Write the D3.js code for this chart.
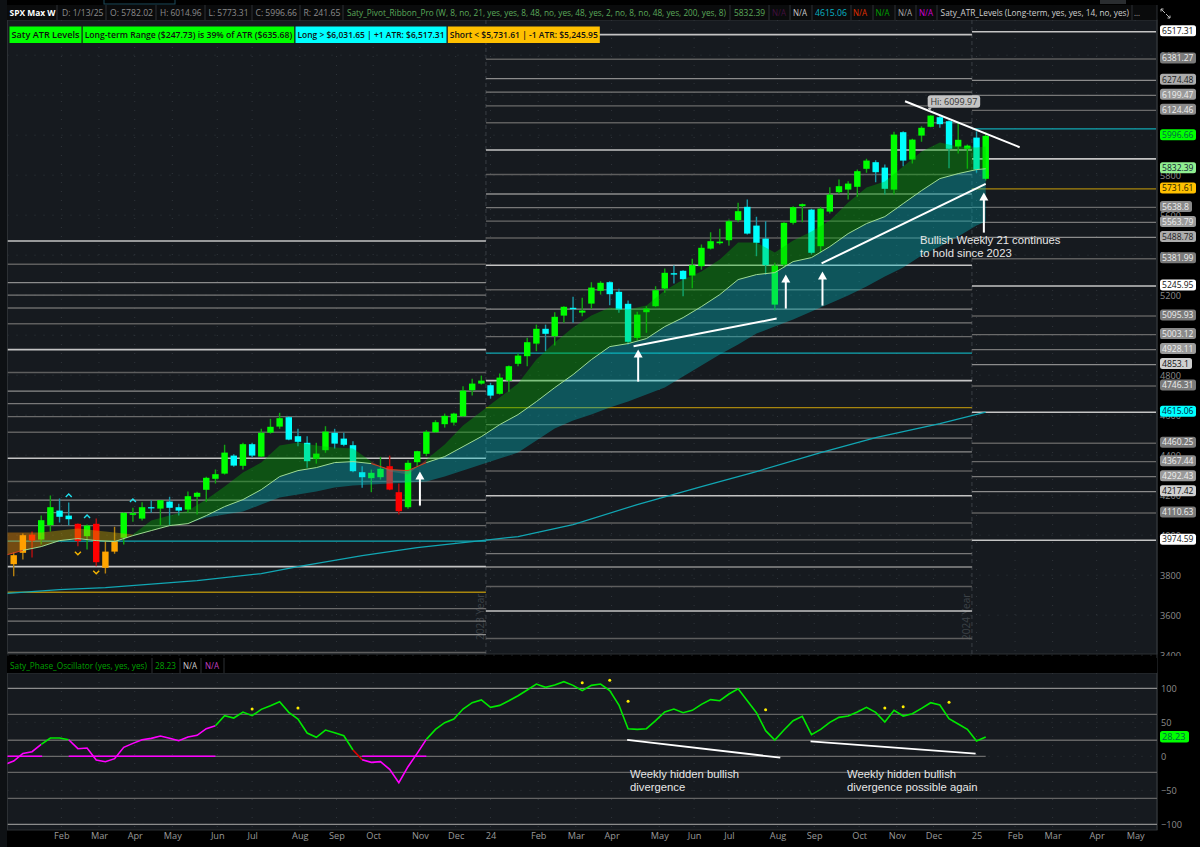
<!DOCTYPE html>
<html>
<head>
<meta charset="utf-8">
<script src="https://cdn.jsdelivr.net/npm/d3@7"></script>
<style>
  html, body { margin: 0; padding: 0; background: #000; }
  svg { display: block; }
  text { font-family: "Open Sans", Roboto, sans-serif; }
  .note { font-family: "Liberation Sans", Arial, sans-serif; font-size: 11.3px; fill: #e6e6e6; }
</style>
</head>
<body>
<script>
// weekly candles, index 0 = first week shown
const opens = [3855,3912,4003,3978,4050,4123,4098,4057,3995,4057,3837,3918,3987,4102,4083,4140,4133,4168,4140,4128,4192,4227,4282,4308,4398,4347,4455,4393,4513,4543,4590,4495,4462,4382,4425,4512,4483,4450,4315,4285,4290,4345,4215,4140,4365,4407,4515,4555,4563,4595,4725,4758,4750,4707,4773,4857,4895,4958,5032,4995,5098,5137,5113,5158,5222,5265,5217,5157,4987,5115,5145,5233,5310,5322,5298,5345,5433,5460,5475,5575,5642,5548,5483,5153,5353,5562,5645,5628,5445,5618,5715,5728,5742,5832,5865,5838,5728,6015,5878,5998,6042,6090,6070,5943,5932,5988,5782.02];
const highs = [3914,4008,4018,4098,4198,4183,4163,4058,4053,4083,3970,4042,4113,4137,4165,4175,4176,4192,4157,4218,4217,4292,4328,4452,4405,4462,4462,4532,4582,4612,4595,4532,4495,4462,4545,4532,4512,4470,4345,4328,4392,4398,4258,4375,4422,4525,4575,4608,4612,4745,4782,4798,4762,4808,4848,4908,4987,5053,5053,5115,5145,5192,5187,5265,5270,5270,5232,5173,5117,5145,5245,5333,5348,5325,5382,5453,5515,5532,5578,5662,5678,5592,5570,5362,5565,5645,5658,5632,5642,5740,5778,5770,5828,5882,5875,5853,6017,6020,5982,6045,6100,6098,6075,6062,5953,6020,6014.96];
const lows = [3795,3878,3888,3954,4018,4063,4050,3945,3928,3845,3808,3907,3953,4067,4073,4112,4050,4048,4098,4112,4103,4167,4258,4303,4342,4328,4388,4392,4508,4532,4475,4445,4337,4358,4412,4433,4445,4315,4237,4215,4278,4225,4103,4132,4345,4395,4512,4538,4548,4592,4698,4753,4683,4703,4717,4845,4845,4920,4920,4948,5062,5062,5095,5132,5203,5150,5112,4953,4975,5012,5142,5212,5258,5195,5235,5328,5428,5453,5448,5565,5503,5395,5303,5125,5337,5553,5565,5403,5412,5608,5705,5678,5692,5812,5765,5703,5703,5845,5858,5967,6040,6037,5835,5908,5832,5812,5773.31];
const closes = [3900,4000,3973,4075,4140,4092,4080,3970,4048,3865,3918,3970,4112,4110,4140,4135,4175,4137,4123,4195,4212,4287,4305,4413,4348,4455,4398,4512,4542,4585,4478,4467,4370,4408,4518,4458,4452,4320,4290,4312,4332,4228,4120,4362,4420,4517,4565,4597,4608,4723,4758,4773,4698,4788,4845,4898,4965,5032,5007,5092,5142,5130,5123,5238,5262,5205,5128,4967,5103,5133,5225,5312,5303,5280,5350,5437,5470,5468,5570,5620,5508,5462,5350,5348,5562,5640,5655,5412,5633,5703,5745,5758,5820,5873,5815,5732,6003,5873,5978,6037,6098,6055,5932,5977,5948,5828,5996.66];
// candle state per run of weeks: g bull, c down, r bear, o recovery
const stateRuns = [[0,1,"o"],[2,2,"r"],[3,4,"g"],[5,6,"c"],[7,7,"r"],[8,8,"g"],[9,9,"r"],[10,11,"o"],[12,14,"g"],[15,15,"c"],[16,16,"g"],[17,18,"c"],[19,23,"g"],[24,24,"c"],[25,25,"g"],[26,26,"c"],[27,29,"g"],[30,32,"c"],[33,34,"g"],[35,38,"c"],[39,40,"g"],[41,42,"r"],[43,51,"g"],[52,52,"c"],[53,57,"g"],[58,58,"c"],[59,60,"g"],[61,61,"c"],[62,64,"g"],[65,67,"c"],[68,71,"g"],[72,73,"c"],[74,79,"g"],[80,82,"c"],[83,86,"g"],[87,87,"c"],[88,93,"g"],[94,95,"c"],[96,96,"g"],[97,97,"c"],[98,100,"g"],[101,102,"c"],[103,104,"g"],[105,105,"c"],[106,106,"g"]];

// pivot ribbon, sampled every second week
const ribbonIdx = [-1,1,3,5,7,9,11,13,15,17,19,21,23,25,27,29,31,33,35,37,39,41,43,45,47,49,51,53,55,57,59,61,63,65,67,69,71,73,75,77,79,81,83,85,87,89,91,93,95,97,99,101,103,105,106];
const emaFast = [4013,4013,4013,4023,4033,4023,4013,4003,4073,4098,4123,4178,4243,4313,4363,4448,4463,4448,4438,4433,4368,4318,4303,4378,4453,4548,4618,4688,4758,4878,4963,5038,5098,5138,5128,5148,5223,5278,5318,5378,5463,5463,5413,5473,5518,5573,5663,5738,5768,5843,5918,5963,5943,5938,5943];
const emaMid = [3899,3924,3943,3973,3983,3973,3968,3998,4023,4048,4058,4098,4143,4178,4228,4293,4323,4338,4363,4368,4358,4328,4323,4363,4393,4443,4493,4553,4603,4668,4738,4803,4878,4943,4958,4983,5043,5088,5143,5203,5278,5303,5313,5368,5388,5443,5508,5558,5593,5658,5723,5783,5808,5828,5832.39];
const emaSlow = [3899,3924,3943,3973,3983,3973,3968,3998,4023,4048,4058,4088,4103,4118,4153,4188,4203,4218,4238,4248,4253,4258,4263,4268,4293,4323,4353,4383,4413,4473,4533,4573,4603,4638,4668,4703,4738,4793,4848,4903,4953,5008,5043,5078,5118,5158,5198,5243,5293,5338,5398,5443,5493,5548,5568];
const bandRuns = [[-1,3,"orange"],[3,13,"olive"],[13,39,"bull"],[39,45,"bear"],[45,106,"bull"]];
const midRuns = [[-1,1,"bear"],[1,39,"bull"],[39,45,"bear"],[45,106,"bull"]];

const ema200Idx = [-1,5,10,20,27,31,38,44,51,55,61,68,75,81,88,94,101,106];
const ema200 = [3708,3728,3738,3773,3808,3843,3898,3938,3973,3993,4053,4153,4243,4318,4413,4488,4558,4615.06];

// chevrons above and below the candles
const upSignalIdx = [6,8,13];
const upSignalPrice = [4198,4093,4173];
const downSignalIdx = [7,9];
const downSignalPrice = [3910,3815];

// ATR levels for each year, top to bottom, with their tier
const levels2023 = [5471,5355,5263,5200,5136,5057,4928,4813,4720,4658,4593,4515,4385,4268,4175,4113,4048,3970,3843,3715,3633,3570,3503,3413];
const tiers2023 = ["w","d","a","b","c","d","w","d","a","b","c","d","w","d","a","b","c","L","w","S","c","b","a","d"];
const levels2024 = [6503,6380,6283,6215,6147,6062,5926,5803,5706,5638,5570,5486,5350,5227,5130,5062,4993,4910,4773,4638,4553,4485,4417,4321,4197,4061,3977,3908,3841,3743,3621,3483];
const tiers2024 = ["w","d","a","b","c","d","w","d","a","b","c","d","w","d","a","b","c","L","w","S","c","b","a","d","w","d","c","b","a","d","w","d"];
const levels2025 = [6517.31,6381.27,6274.48,6199.47,6124.46,6031.65,5881.63,5731.61,5638.8,5563.79,5488.78,5381.99,5245.95,5095.93,5003.12,4928.11,4853.1,4746.31,4615.06,4460.25,4367.44,4292.43,4217.42,4110.63,3974.59];
const tiers2025 = ["w","d","a","b","c","L","w","S","c","b","a","d","w","d","c","b","a","d","w","d","c","b","a","d","w"];
const yearEdges = [-1,51.5,104.5];

// price badges on the right
const badgeValues = [6517.31,6381.27,6274.48,6199.47,6124.46,5996.66,5832.39,5731.61,5638.8,5563.79,5488.78,5381.99,5245.95,5095.93,5003.12,4928.11,4853.1,4746.31,4615.06,4460.25,4367.44,4292.43,4217.42,4110.63,3974.59];
const badgeKinds = ["w","d","a","b","c","last","ema","S","c","b","a","d","w","d","c","b","a2","d","cy","d","c","b","a2","d","w"];
const priceTicks = [3400,3600,3800,4000,4200,4400,4600,4800,5000,5200,5400,5600,5800,6000,6200,6400];

// oscillator, first value is the week before index 0
const oscValues = [-12,-7,4.3,6.8,17.6,26.9,26.9,24.4,11.2,12.2,-5.5,-7.9,-3.5,13.2,19,24.4,26.4,29.8,26.4,23,28.4,30.8,40.6,45,59.7,56.3,65.1,59.7,69,74.4,80.3,64.6,54.8,34.2,27.9,38.6,34.7,30.3,9.2,-5,-8.9,-7.9,-19.2,-38.8,-15.3,4.3,24.9,39.6,49.4,54.8,69.5,78.8,82.8,72,74.9,81.8,89.1,97.5,106.3,101.4,104.8,109.7,104.3,96.5,104.3,106.3,96.5,75.4,40.6,39.6,40.6,52.4,65.1,69.5,64.1,67.6,76.4,83.3,81.8,91.6,99.4,81.8,64.1,37.7,23.9,38.6,52.4,58.7,31.8,39.6,49.9,57.3,59.2,65.1,72,64.6,50.4,67.6,59.2,62.7,70.5,78.8,75.4,55.3,47.5,39.6,22.5,28.23];
const oscRuns = [[-1,3,"pink"],[3,6,"lime"],[6,22,"pink"],[22,37,"lime"],[37,38,"red"],[38,45,"pink"],[45,106,"lime"]];
const oscLevels = [100,61.8,23.6,-23.6,-61.8,-100];
const oscZeroRuns = [[-1,3.1],[6,22],[38,45]];
const oscDotIdx = [26,31,62,65,67,82,95,97,102];
const oscDotValues = [69.6,71,108.2,111.8,80.9,68.5,71,72.9,79.4];
const oscTicks = [-100,-50,0,50,100];

// time axis
const monthTicks = [5.2,9.3,13.2,17.3,22.2,26,31.2,35.2,39.2,44.3,48.2,52,57.2,61.3,65.2,70.4,74.2,78,83.3,87.3,92.2,96.3,100.3,105,109.2,113.3,118.1,122.3];
const monthLabels = ["Feb","Mar","Apr","May","Jun","Jul","Aug","Sep","Oct","Nov","Dec","24","Feb","Mar","Apr","May","Jun","Jul","Aug","Sep","Oct","Nov","Dec","25","Feb","Mar","Apr","May"];

// drawn annotations in chart units
const trendLines = [[97.2,6170,109.7,5940],[88.1,5359,106,5757],[67.6,4945,83.2,5083]];
const arrows = [[44.3,4318,4148],[68.1,4928,4768],[84.2,5303,5133],[88.2,5318,5148],[105.8,5713,5513]];
const oscLines = [[66.9,24,83.6,-2],[86.9,22,104.9,3.8]];

const W = 1200, H = 847;
const plotL = 7.5, plotR = 1157, priceT = 20, priceB = 654, oscT = 673, oscB = 830;
const bg = "#161a1f";

const x = d3.scaleLinear().domain([0, 106]).range([13.7, 985.7]);
const y = d3.scaleLinear().domain([3400, 6400]).range([655.2, 55.2]);
const yOsc = d3.scaleLinear().domain([-100, 100]).range([824.3, 688.3]);

const svg = d3.select("body").append("svg").attr("width", W).attr("height", H);
svg.append("rect").attr("width", W).attr("height", H).attr("fill", "#000");
svg.append("rect").attr("width", 7).attr("height", H).attr("fill", "#0e1114");
svg.append("rect").attr("x", plotL).attr("y", priceT).attr("width", plotR - plotL).attr("height", priceB - priceT).attr("fill", bg).attr("stroke", "#2c3034");
svg.append("rect").attr("x", plotL).attr("y", oscT).attr("width", plotR - plotL).attr("height", oscB - oscT).attr("fill", bg).attr("stroke", "#2c3034");

const defs = svg.append("defs");
defs.append("clipPath").attr("id", "priceClip").append("rect").attr("x", plotL).attr("y", priceT).attr("width", plotR - plotL).attr("height", priceB - priceT);
defs.append("clipPath").attr("id", "oscClip").append("rect").attr("x", plotL).attr("y", oscT).attr("width", plotR - plotL).attr("height", oscB - oscT);

// faint dotted grid
const gridV = monthTicks.filter(d => x(d) < plotR);
[[priceT, priceB], [oscT, oscB]].forEach(r => {
  svg.append("g").selectAll("line").data(gridV).enter().append("line")
    .attr("x1", d => x(d)).attr("x2", d => x(d)).attr("y1", r[0]).attr("y2", r[1])
    .attr("stroke", "#30353b").attr("stroke-dasharray", "1,8");
});
svg.append("g").selectAll("line").data(priceTicks).enter().append("line")
  .attr("x1", plotL).attr("x2", plotR).attr("y1", d => y(d)).attr("y2", d => y(d))
  .attr("stroke", "#30353b").attr("stroke-dasharray", "1,8");
svg.append("g").selectAll("line").data(oscTicks).enter().append("line")
  .attr("x1", plotL).attr("x2", plotR).attr("y1", d => yOsc(d)).attr("y2", d => yOsc(d))
  .attr("stroke", "#30353b").attr("stroke-dasharray", "1,8");

const chart = svg.append("g").attr("clip-path", "url(#priceClip)");

// year separators and watermarks
[51.5, 104.5].forEach((d, i) => {
  chart.append("line").attr("x1", x(d)).attr("x2", x(d)).attr("y1", priceT).attr("y2", priceB)
    .attr("stroke", "#3a3f45").attr("stroke-dasharray", "4,3");
  chart.append("text").attr("transform", `translate(${x(d) - 2},640) rotate(-90)`)
    .attr("font-size", 10).attr("fill", "#3d4247").text(i ? "2024 Year" : "2023 Year");
});

// ATR levels
const tierColor = { w: "#c4c4c4", a: "#8c8c8c", b: "#787878", c: "#6a6a6a", d: "#5e5e5e", L: "#10a8b4", S: "#a8860e" };
const tierWidth = { w: 1.6, a: 1.3, b: 1.3, c: 1.3, d: 1.5, L: 1.2, S: 1.4 };
[[levels2023, tiers2023, 0], [levels2024, tiers2024, 1], [levels2025, tiers2025, 2]].forEach(s => {
  const x0 = s[2] === 0 ? plotL : x(yearEdges[s[2]]);
  const x1 = s[2] === 2 ? plotR - 1 : x(yearEdges[s[2] + 1]);
  chart.append("g").selectAll("line").data(s[0]).enter().append("line")
    .attr("x1", x0).attr("x2", x1)
    .attr("y1", d => y(d)).attr("y2", d => y(d))
    .attr("stroke", (d, i) => tierColor[s[1][i]])
    .attr("stroke-width", (d, i) => tierWidth[s[1][i]]);
});

// 200 ema
chart.append("path")
  .attr("d", d3.line().x(d => x(d[0])).y(d => y(d[1]))(ema200Idx.map((d, i) => [d, ema200[i]])))
  .attr("fill", "none").attr("stroke", "#11a6b3").attr("stroke-width", 1.2);

// candles
const candleColor = { g: "#00ff00", c: "#00ffff", r: "#ff0000", o: "#ffa500" };
const wickColor = { g: "#12a512", c: "#1a98a8", r: "#b81010", o: "#b5800f" };
const candleState = i => stateRuns.find(r => i >= r[0] && i <= r[1])[2];
const bodyW = (x(1) - x(0)) * 0.7;
const candles = chart.append("g").selectAll("g").data(opens).enter().append("g");
candles.append("line")
  .attr("x1", (d, i) => x(i)).attr("x2", (d, i) => x(i))
  .attr("y1", (d, i) => y(highs[i])).attr("y2", (d, i) => y(lows[i]))
  .attr("stroke", (d, i) => wickColor[candleState(i)]).attr("stroke-width", 1.4);
candles.append("rect")
  .attr("x", (d, i) => x(i) - bodyW / 2).attr("width", bodyW)
  .attr("y", (d, i) => y(Math.max(d, closes[i])))
  .attr("height", (d, i) => Math.max(1.2, Math.abs(y(d) - y(closes[i]))))
  .attr("fill", (d, i) => candleColor[candleState(i)]);

// ribbon bands sit over the candles
const ribbon = ribbonIdx.map((d, i) => ({ i: d, fast: emaFast[i], mid: emaMid[i], slow: emaSlow[i] }));
const runPoints = r => ribbon.filter(d => d.i >= r[0] && d.i <= r[1]);
const bandColor = { orange: "rgba(255,150,0,0.4)", olive: "rgba(205,170,0,0.4)", bull: "rgba(0,190,0,0.35)", bear: "rgba(170,80,70,0.4)" };
const bandArea = d3.area().x(d => x(d.i)).y0(d => y(d.fast)).y1(d => y(d.mid));
bandRuns.forEach(r => {
  chart.append("path").attr("d", bandArea(runPoints(r))).attr("fill", bandColor[r[2]]);
});
chart.append("path")
  .attr("d", d3.area().x(d => x(d.i)).y0(d => y(d.mid)).y1(d => y(d.slow))(ribbon))
  .attr("fill", "rgba(0,190,200,0.36)");
const midLine = d3.line().x(d => x(d.i)).y(d => y(d.mid));
midRuns.forEach(r => {
  chart.append("path").attr("d", midLine(runPoints(r))).attr("fill", "none")
    .attr("stroke", r[2] === "bull" ? "#9fdc92" : "#d8401c").attr("stroke-width", 1);
});

// chevrons
const chevron = (g, data, prices, color, dir) => {
  g.append("g").selectAll("path").data(data).enter().append("path")
    .attr("d", (d, i) => d3.line()([[x(d) - 3, y(prices[i]) + 1.5 * dir], [x(d), y(prices[i]) - 1.5 * dir], [x(d) + 3, y(prices[i]) + 1.5 * dir]]))
    .attr("fill", "none").attr("stroke", color).attr("stroke-width", 1.4);
};
chevron(chart, upSignalIdx, upSignalPrice, "#20e0ee", 1);
chevron(chart, downSignalIdx, downSignalPrice, "#f5b400", -1);

// trend lines and arrows
svg.append("g").selectAll("line").data(trendLines).enter().append("line")
  .attr("x1", d => x(d[0])).attr("y1", d => y(d[1])).attr("x2", d => x(d[2])).attr("y2", d => y(d[3]))
  .attr("stroke", "#fff").attr("stroke-width", 2);
const arrowG = svg.append("g").selectAll("g").data(arrows).enter().append("g");
arrowG.append("line")
  .attr("x1", d => x(d[0])).attr("x2", d => x(d[0]))
  .attr("y1", d => y(d[1]) + 6).attr("y2", d => y(d[2]))
  .attr("stroke", "#fff").attr("stroke-width", 2);
arrowG.append("path")
  .attr("d", d => `M${x(d[0])},${y(d[1])}l4.5,8h-9z`).attr("fill", "#fff");

svg.append("text").attr("class", "note").attr("x", 920).attr("y", 244).text("Bullish Weekly 21 continues");
svg.append("text").attr("class", "note").attr("x", 920).attr("y", 257).text("to hold since 2023");

// high callout
const hiX = x(100), hiY = y(6100);
svg.append("path").attr("d", `M${hiX - 3},${hiY - 7.5}l2,3.5l2,-3.5z`).attr("fill", "#c4c4c4");
svg.append("rect").attr("x", hiX - 3).attr("y", hiY - 20).attr("width", 52.5).attr("height", 12.5).attr("rx", 3).attr("fill", "#c4c4c4");
svg.append("text").attr("x", hiX + 23.2).attr("y", hiY - 10.5).attr("text-anchor", "middle").attr("font-size", 9).attr("fill", "#333").text("Hi: 6099.97");

// price axis
const priceAxis = svg.append("g").attr("transform", `translate(1160,0)`)
  .call(d3.axisRight(y).tickValues(priceTicks).tickSize(0).tickPadding(0).tickFormat(d3.format("d")));
priceAxis.select(".domain").remove();
priceAxis.selectAll("text").attr("fill", "#8c8c8c").attr("font-size", 9.2).attr("font-family", "Open Sans").attr("x", 0);
svg.append("line").attr("x1", plotR).attr("x2", plotR).attr("y1", priceT).attr("y2", oscB).attr("stroke", "#33373b");

// badges
const badgeFill = { w: "#ffffff", a: "#ababab", a2: "#cfcfcf", b: "#9a9a9a", c: "#8a8a8a", d: "#7a7a7a", last: "#00ff00", ema: "#90ee90", S: "#ffc000", cy: "#00ffff" };
const badgeText = { w: "#111", a: "#222", a2: "#111", b: "#eee", c: "#eee", d: "#eee", last: "#064", ema: "#123", S: "#220", cy: "#024" };
const badges = svg.append("g").selectAll("g").data(badgeValues).enter().append("g")
  .attr("transform", d => `translate(1160,${y(d) - 1})`);
badges.append("rect").attr("x", 0).attr("y", -5.5).attr("height", 11).attr("rx", 2.5)
  .attr("width", d => String(d).length > 6 ? 36 : 32)
  .attr("fill", (d, i) => badgeFill[badgeKinds[i]]);
badges.append("text").attr("x", 2).attr("y", 3.2).attr("font-size", 9.2)
  .attr("textLength", d => String(d).length > 6 ? 31.5 : 27).attr("lengthAdjust", "spacingAndGlyphs")
  .attr("fill", (d, i) => badgeText[badgeKinds[i]]).text(d => d);

// oscillator panel
const osc = svg.append("g").attr("clip-path", "url(#oscClip)");
osc.append("g").selectAll("line").data(oscLevels).enter().append("line")
  .attr("x1", plotL).attr("x2", plotR).attr("y1", d => yOsc(d)).attr("y2", d => yOsc(d))
  .attr("stroke", d => Math.abs(d) === 100 ? "#8c8c8c" : "#646464").attr("stroke-width", 1.3);
osc.append("line").attr("x1", plotL).attr("x2", x(106)).attr("y1", yOsc(0)).attr("y2", yOsc(0))
  .attr("stroke", "#6a6a6a").attr("stroke-width", 1.3);
osc.append("g").selectAll("line").data(oscZeroRuns).enter().append("line")
  .attr("x1", d => x(d[0])).attr("x2", d => x(d[1])).attr("y1", yOsc(0)).attr("y2", yOsc(0))
  .attr("stroke", "#ff00ff").attr("stroke-width", 1.4);
const oscPoints = oscValues.map((d, i) => ({ i: i - 1, v: d }));
const oscLine = d3.line().x(d => x(d.i)).y(d => yOsc(d.v));
const oscColor = { pink: "#ff00ff", lime: "#00e800", red: "#e00000" };
oscRuns.forEach(r => {
  osc.append("path").attr("d", oscLine(oscPoints.filter(d => d.i >= r[0] && d.i <= r[1])))
    .attr("fill", "none").attr("stroke", oscColor[r[2]]).attr("stroke-width", 1.6);
});
osc.append("g").selectAll("circle").data(oscDotIdx).enter().append("circle")
  .attr("cx", d => x(d)).attr("cy", (d, i) => yOsc(oscDotValues[i])).attr("r", 1.5).attr("fill", "#ffee00");
osc.append("g").selectAll("line.t").data(oscLines).enter().append("line")
  .attr("x1", d => x(d[0])).attr("y1", d => yOsc(d[1])).attr("x2", d => x(d[2])).attr("y2", d => yOsc(d[3]))
  .attr("stroke", "#fff").attr("stroke-width", 1.8);
[["Weekly hidden bullish", 630, 778], ["divergence", 630, 791], ["Weekly hidden bullish", 847, 778], ["divergence possible again", 847, 791]].forEach(t => {
  svg.append("text").attr("class", "note").attr("x", t[1]).attr("y", t[2]).text(t[0]);
});

const oscAxis = svg.append("g").attr("transform", `translate(1161,0)`)
  .call(d3.axisRight(yOsc).tickValues(oscTicks).tickSize(0).tickPadding(0));
oscAxis.select(".domain").remove();
oscAxis.selectAll("text").attr("fill", "#8c8c8c").attr("font-size", 9.2).attr("font-family", "Open Sans").attr("x", 0);
svg.append("rect").attr("x", 1160).attr("y", 731).attr("width", 29).attr("height", 11.5).attr("rx", 2.5).attr("fill", "#00ff00");
svg.append("text").attr("x", 1162).attr("y", 739.8).attr("font-size", 9.2).attr("fill", "#064").text("28.23");

// month axis
const timeAxis = svg.append("g").attr("transform", `translate(0,${oscB + 2})`)
  .call(d3.axisBottom(x).tickValues(monthTicks).tickSize(0).tickPadding(0).tickFormat((d, i) => monthLabels[i]));
timeAxis.select(".domain").remove();
timeAxis.selectAll("text").attr("fill", "#9a9a9a").attr("font-size", 9.2).attr("font-family", "Open Sans").attr("dy", "0.71em");

// masks the clipped 3400 tick under the lower panel's header
svg.append("rect").attr("x", 1158).attr("y", 656).attr("width", 42).attr("height", 14).attr("fill", "#000");

// top strip tabs
svg.append("rect").attr("x", 104).attr("y", -1).attr("width", 71).attr("height", 5).attr("fill", "none").attr("stroke", "#1c4a5a");
svg.append("rect").attr("x", 1100).attr("y", 0).attr("width", 26).attr("height", 4).attr("fill", "#2a2d30");

// header rows: text, left edge, width, colour, weight
const headerCells = [["SPX Max W",9.5,46,"#fff",700],["D: 1/13/25",62,41.5,"#8c8c8c",400],["O: 5782.02",110,43,"#8c8c8c",400],["H: 6014.96",160,41.5,"#8c8c8c",400],["L: 5773.31",208.5,40,"#8c8c8c",400],["C: 5996.66",255.5,41.5,"#8c8c8c",400],["R: 241.65",303.5,37,"#8c8c8c",400],["Saty_Pivot_Ribbon_Pro (W, 8, no, 21, yes, yes, 8, 48, no, yes, 48, yes, 2, no, 8, no, 48, yes, 200, yes, 8)",347,379,"#5aa85a",400],["5832.39",734,31,"#5aa85a",400],["N/A",772,14,"#42103f",400],["N/A",793,14,"#c8c8c8",400],["4615.06",815,32,"#08b4c4",400],["N/A",853,14,"#e03000",400],["N/A",875.5,14,"#00a000",400],["N/A",898,14,"#aaa",400],["N/A",919,14,"#d000d0",400],["Saty_ATR_Levels (Long-term, yes, yes, 14, no, yes)",940.6,188.4,"#cfcfcf",400],["...",1134,6,"#aaa",400]];
const headerSeps = [57,106,156,205,252,300,343,730,769,790,812,851,873,895,916,937,1132,1157];
svg.append("rect").attr("x", 7).attr("y", 5).attr("width", 1150).attr("height", 15).attr("fill", "#0a0b0c");
svg.append("g").selectAll("line").data(headerSeps).enter().append("line")
  .attr("x1", d => d).attr("x2", d => d).attr("y1", 5).attr("y2", 20).attr("stroke", "#2c3034");
svg.append("g").selectAll("text").data(headerCells).enter().append("text")
  .attr("x", d => d[1]).attr("y", 16.3).attr("font-size", 9.2)
  .attr("textLength", d => d[2]).attr("lengthAdjust", "spacingAndGlyphs")
  .attr("fill", d => d[3]).attr("font-weight", d => d[4]).text(d => d[0]);

// small settings glyph at the end of the header
svg.append("path").attr("d", "M1161,9l4,4M1161,9h2.5M1161,9v2.5M1170,18l-4,-4M1170,18h-2.5M1170,18v-2.5").attr("fill", "none").attr("stroke", "#bbb").attr("stroke-width", 1);

const headerBoxes = [["Saty ATR Levels",9.5,72,"#00ff00"],["Long-term Range ($247.73) is 39% of ATR ($635.68)",82.7,211.5,"#00ff00"],["Long > $6,031.65 | +1 ATR: $6,517.31",295.5,151,"#00ffff"],["Short < $5,731.61 | -1 ATR: $5,245.95",447.8,152,"#ffc000"]];
headerBoxes.forEach(b => {
  svg.append("rect").attr("x", b[1]).attr("y", 26.5).attr("width", b[2]).attr("height", 16.5).attr("fill", b[3]);
  svg.append("text").attr("x", b[1] + 2).attr("y", 38).attr("font-size", 9.2).attr("font-weight", 600).attr("fill", "#111")
    .attr("textLength", b[2] - 4).attr("lengthAdjust", "spacingAndGlyphs").text(b[0]);
});

svg.append("rect").attr("x", 7).attr("y", 658).attr("width", 1150).attr("height", 15).attr("fill", "#000");
const oscHeader = [["Saty_Phase_Oscillator (yes, yes, yes)",10,137,"#00a000"],["28.23",155,21,"#00a000"],["N/A",183,14,"#ccc"],["N/A",205,14,"#c040c0"]];
svg.append("g").selectAll("text").data(oscHeader).enter().append("text")
  .attr("x", d => d[1]).attr("y", 669.3).attr("font-size", 9.2)
  .attr("textLength", d => d[2]).attr("lengthAdjust", "spacingAndGlyphs")
  .attr("fill", d => d[3]).text(d => d[0]);
svg.append("g").selectAll("line").data([152,180,201,224]).enter().append("line")
  .attr("x1", d => d).attr("x2", d => d).attr("y1", 658).attr("y2", 673).attr("stroke", "#2c3034");
</script>
</body>
</html>
